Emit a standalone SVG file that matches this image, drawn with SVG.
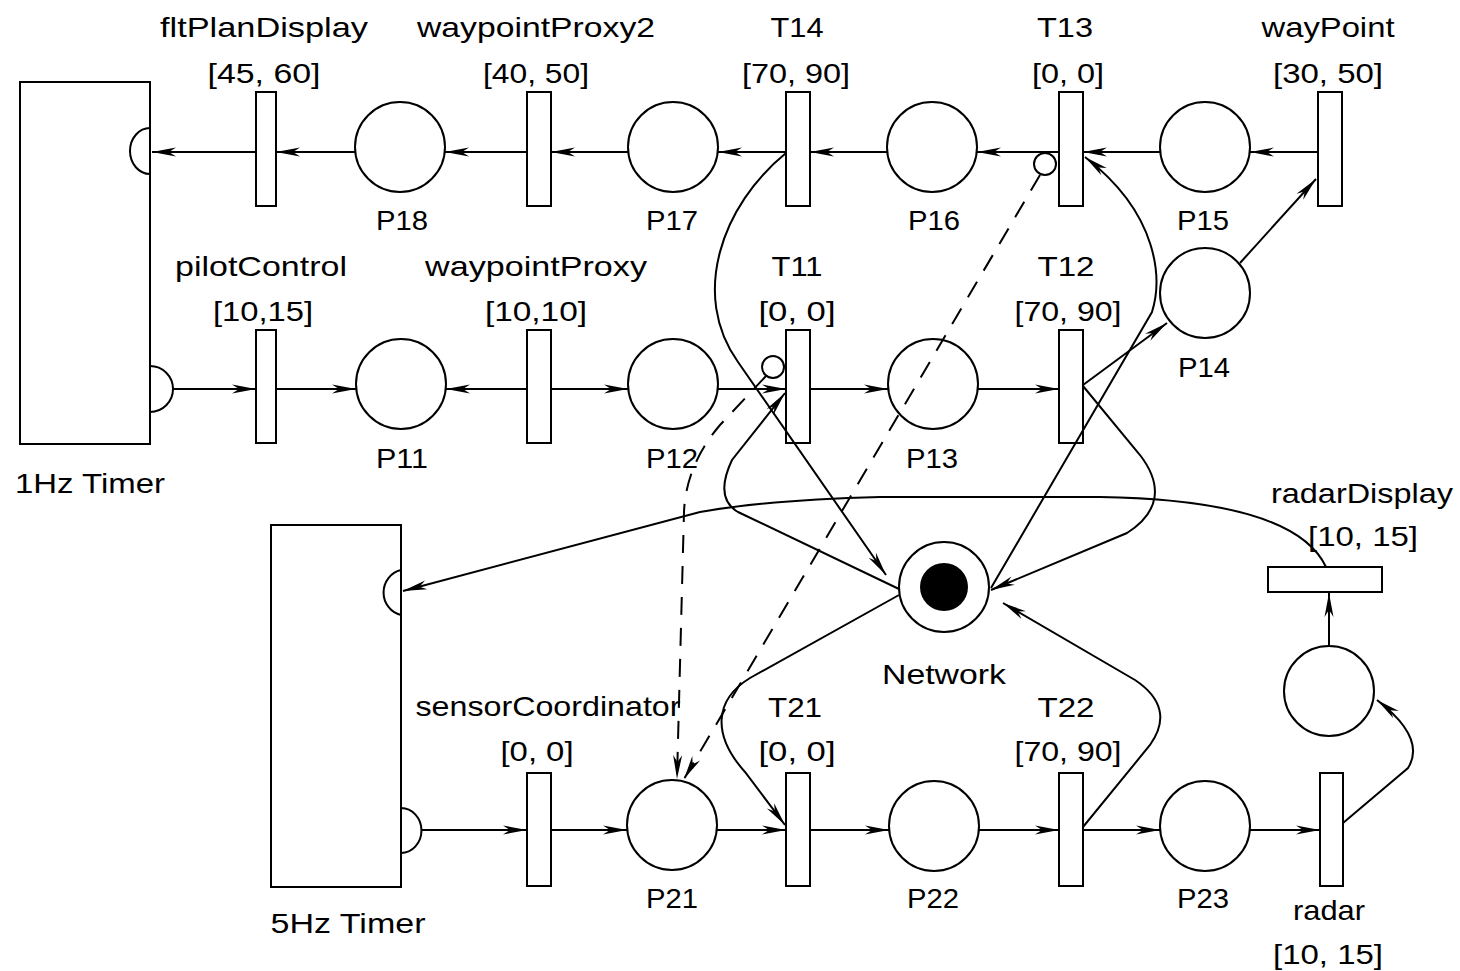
<svg xmlns="http://www.w3.org/2000/svg" width="1460" height="971" viewBox="0 0 1460 971">
<style>
.n{fill:#fff;stroke:#000;stroke-width:2}
.o{fill:none;stroke:#000;stroke-width:2}
.c{fill:none;stroke:#000;stroke-width:2}
.a{marker-end:url(#ah)}
.d{stroke-dasharray:18 13}
text{font-family:"Liberation Sans",Arial,sans-serif;font-size:28px;fill:#000;text-anchor:middle}
</style>
<defs>
<marker id="ah" markerUnits="userSpaceOnUse" markerWidth="26" markerHeight="12" refX="24" refY="6" orient="auto" overflow="visible">
<path d="M0,1.5 L24,6 L0,10.5 L7,6 Z" fill="#000"/>
</marker>
</defs>
<rect width="1460" height="971" fill="#fff"/>

<g id="timer1Hz">
<rect class="o" x="20" y="82" width="130" height="362"/>
<path class="o" d="M150,128 A20,23 0 0 0 150,174"/>
<path class="o" d="M150,366 A23,23 0 0 1 150,412"/>
<text x="90" y="493" textLength="150" lengthAdjust="spacingAndGlyphs">1Hz Timer</text>
</g>
<g id="timer5Hz">
<rect class="o" x="271" y="525" width="130" height="362"/>
<path class="o" d="M401,570 A22,23 0 0 0 401,615"/>
<path class="o" d="M401,808 A20,22 0 0 1 401,853"/>
<text x="348" y="933" textLength="155" lengthAdjust="spacingAndGlyphs">5Hz Timer</text>
</g>

<g id="fltPlanDisplay">
<rect class="n" x="256" y="92" width="20" height="114"/>
<text x="264" y="37" textLength="208" lengthAdjust="spacingAndGlyphs">fltPlanDisplay</text>
<text x="264" y="83" textLength="113" lengthAdjust="spacingAndGlyphs">[45, 60]</text>
</g>
<g id="P18"><circle class="o" cx="400" cy="147" r="45"/><text x="402" y="230" textLength="52" lengthAdjust="spacingAndGlyphs">P18</text></g>
<g id="waypointProxy2">
<rect class="n" x="527" y="92" width="24" height="114"/>
<text x="536" y="37" textLength="238" lengthAdjust="spacingAndGlyphs">waypointProxy2</text>
<text x="536" y="83" textLength="106" lengthAdjust="spacingAndGlyphs">[40, 50]</text>
</g>
<g id="P17"><circle class="o" cx="673" cy="147" r="45"/><text x="672" y="230" textLength="52" lengthAdjust="spacingAndGlyphs">P17</text></g>
<g id="T14">
<rect class="n" x="786" y="92" width="24" height="114"/>
<text x="797" y="37" textLength="53" lengthAdjust="spacingAndGlyphs">T14</text>
<text x="796" y="83" textLength="108" lengthAdjust="spacingAndGlyphs">[70, 90]</text>
</g>
<g id="P16"><circle class="o" cx="932" cy="147" r="45"/><text x="934" y="230" textLength="52" lengthAdjust="spacingAndGlyphs">P16</text></g>
<g id="T13">
<rect class="n" x="1059" y="92" width="24" height="114"/>
<circle class="o" cx="1045" cy="164" r="11"/>
<text x="1065" y="37" textLength="56" lengthAdjust="spacingAndGlyphs">T13</text>
<text x="1068" y="83" textLength="72" lengthAdjust="spacingAndGlyphs">[0, 0]</text>
</g>
<g id="P15"><circle class="o" cx="1205" cy="147" r="45"/><text x="1203" y="230" textLength="52" lengthAdjust="spacingAndGlyphs">P15</text></g>
<g id="wayPoint">
<rect class="n" x="1318" y="92" width="24" height="114"/>
<text x="1328" y="37" textLength="133" lengthAdjust="spacingAndGlyphs">wayPoint</text>
<text x="1328" y="83" textLength="110" lengthAdjust="spacingAndGlyphs">[30, 50]</text>
</g>

<g id="pilotControl">
<rect class="n" x="256" y="330" width="20" height="113"/>
<text x="261" y="276" textLength="172" lengthAdjust="spacingAndGlyphs">pilotControl</text>
<text x="263" y="321" textLength="100" lengthAdjust="spacingAndGlyphs">[10,15]</text>
</g>
<g id="P11"><circle class="o" cx="401" cy="384" r="45"/><text x="402" y="468" textLength="52" lengthAdjust="spacingAndGlyphs">P11</text></g>
<g id="waypointProxy">
<rect class="n" x="527" y="330" width="24" height="113"/>
<text x="536" y="276" textLength="222" lengthAdjust="spacingAndGlyphs">waypointProxy</text>
<text x="536" y="321" textLength="102" lengthAdjust="spacingAndGlyphs">[10,10]</text>
</g>
<g id="P12"><circle class="o" cx="673" cy="384" r="45"/><text x="672" y="468" textLength="52" lengthAdjust="spacingAndGlyphs">P12</text></g>
<g id="T11">
<rect class="n" x="786" y="330" width="24" height="113"/>
<circle class="o" cx="773" cy="367" r="11"/>
<text x="797" y="276" textLength="51" lengthAdjust="spacingAndGlyphs">T11</text>
<text x="797" y="321" textLength="77" lengthAdjust="spacingAndGlyphs">[0, 0]</text>
</g>
<g id="P13"><circle class="o" cx="933" cy="384" r="45"/><text x="932" y="468" textLength="52" lengthAdjust="spacingAndGlyphs">P13</text></g>
<g id="T12">
<rect class="n" x="1059" y="330" width="24" height="113"/>
<text x="1066" y="276" textLength="57" lengthAdjust="spacingAndGlyphs">T12</text>
<text x="1068" y="321" textLength="107" lengthAdjust="spacingAndGlyphs">[70, 90]</text>
</g>
<g id="P14"><circle class="o" cx="1205" cy="293" r="45"/><text x="1204" y="377" textLength="52" lengthAdjust="spacingAndGlyphs">P14</text></g>

<g id="Network">
<circle class="o" cx="944" cy="587" r="45"/>
<circle cx="944" cy="587" r="24" fill="#000"/>
<text x="944" y="684" textLength="124" lengthAdjust="spacingAndGlyphs">Network</text>
</g>
<g id="radarDisplay">
<rect class="n" x="1268" y="567" width="114" height="25"/>
<text x="1362" y="503" textLength="182" lengthAdjust="spacingAndGlyphs">radarDisplay</text>
<text x="1363" y="546" textLength="110" lengthAdjust="spacingAndGlyphs">[10, 15]</text>
</g>
<g id="P24"><circle class="o" cx="1329" cy="691" r="45"/></g>

<g id="sensorCoordinator">
<rect class="n" x="527" y="773" width="24" height="113"/>
<text x="548" y="716" textLength="265" lengthAdjust="spacingAndGlyphs">sensorCoordinator</text>
<text x="537" y="761" textLength="73" lengthAdjust="spacingAndGlyphs">[0, 0]</text>
</g>
<g id="P21"><circle class="o" cx="672" cy="825" r="45"/><text x="672" y="908" textLength="52" lengthAdjust="spacingAndGlyphs">P21</text></g>
<g id="T21">
<rect class="n" x="786" y="773" width="24" height="113"/>
<text x="795" y="717" textLength="54" lengthAdjust="spacingAndGlyphs">T21</text>
<text x="797" y="761" textLength="77" lengthAdjust="spacingAndGlyphs">[0, 0]</text>
</g>
<g id="P22"><circle class="o" cx="934" cy="826" r="45"/><text x="933" y="908" textLength="52" lengthAdjust="spacingAndGlyphs">P22</text></g>
<g id="T22">
<rect class="n" x="1059" y="773" width="24" height="113"/>
<text x="1066" y="717" textLength="57" lengthAdjust="spacingAndGlyphs">T22</text>
<text x="1068" y="761" textLength="107" lengthAdjust="spacingAndGlyphs">[70, 90]</text>
</g>
<g id="P23"><circle class="o" cx="1205" cy="826" r="45"/><text x="1203" y="908" textLength="52" lengthAdjust="spacingAndGlyphs">P23</text></g>
<g id="radar">
<rect class="n" x="1320" y="773" width="23" height="113"/>
<text x="1329" y="920" textLength="72" lengthAdjust="spacingAndGlyphs">radar</text>
<text x="1328" y="964" textLength="110" lengthAdjust="spacingAndGlyphs">[10, 15]</text>
</g>

<g id="connectors">
<!-- top row -->
<path class="c a" d="M1318,152 L1250,152"/>
<path class="c a" d="M1160,152 L1083,152"/>
<path class="c a" d="M1059,152 L977,152"/>
<path class="c a" d="M887,152 L810,152"/>
<path class="c a" d="M786,152 L718,152"/>
<path class="c a" d="M628,152 L551,152"/>
<path class="c a" d="M527,152 L445,152"/>
<path class="c a" d="M355,152 L276,152"/>
<path class="c a" d="M256,152 L152,152"/>
<!-- middle row -->
<path class="c a" d="M173,389 L256,389"/>
<path class="c a" d="M276,389 L356,389"/>
<path class="c a" d="M527,389 L446,389"/>
<path class="c a" d="M551,389 L628,389"/>
<path class="c a" d="M718,389 L786,389"/>
<path class="c a" d="M810,389 L888,389"/>
<path class="c a" d="M978,389 L1059,389"/>
<path class="c a" d="M1083,385 L1167,323"/>
<path class="c a" d="M1240,263 L1316,179"/>
<!-- bottom row -->
<path class="c a" d="M421,830 L527,830"/>
<path class="c a" d="M551,830 L627,830"/>
<path class="c a" d="M717,830 L786,830"/>
<path class="c a" d="M810,830 L889,830"/>
<path class="c a" d="M979,830 L1059,830"/>
<path class="c a" d="M1083,830 L1160,830"/>
<path class="c a" d="M1250,830 L1320,830"/>
<path class="c a" d="M1343,823 L1408,768 C1418,752 1416,730 1377,700"/>
<path class="c a" d="M1329,646 L1329,593"/>
<path class="c a" d="M1326,567 C1305,522 1230,499 1100,497 L880,497 C800,499 740,505 700,512 L403,591"/>
<!-- network arcs -->
<path class="c a" d="M786,153 C722,205 690,295 738,362 L886,575"/>
<path class="c a" d="M899,589 L738,512 Q714,498 732,460 L785,393"/>
<path class="c a" d="M899,595 L750,678 C714,700 712,735 745,772 L785,825"/>
<path class="c a" d="M1083,386 L1140,455 C1163,485 1160,512 1127,533 L991,590"/>
<path class="c a" d="M1083,827 L1150,745 C1168,720 1162,698 1135,680 L1003,603"/>
<path class="c a" d="M991,588 L1152,312 C1162,280 1160,215 1085,157"/>
<!-- dashed arcs -->
<path class="c d a" d="M766,376 L720,425 Q686,465 684,512 L677,779"/>
<path class="c d a" d="M1040,175 L684,779"/>
</g>
</svg>
